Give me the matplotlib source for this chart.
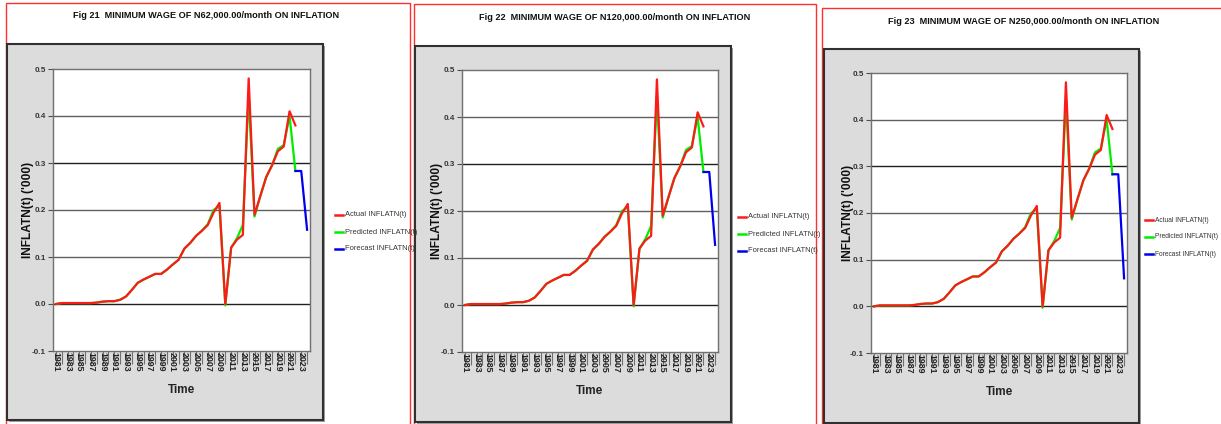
import matplotlib
matplotlib.use("Agg")
import matplotlib.pyplot as plt
from matplotlib.patches import Rectangle
from matplotlib.lines import Line2D

W, H = 1221, 424
plt.rcParams['font.family'] = ['Liberation Sans Narrow', 'Liberation Sans', 'DejaVu Sans']

years = list(range(1981, 2023))
actual = [0.000, 0.002, 0.002, 0.002, 0.002, 0.002, 0.002, 0.003, 0.005, 0.006,
          0.006, 0.009, 0.016, 0.030, 0.045, 0.052, 0.058, 0.064, 0.064, 0.073,
          0.084, 0.094, 0.118, 0.130, 0.145, 0.156, 0.168, 0.195, 0.215, 0.000,
          0.120, 0.137, 0.147, 0.480, 0.190, 0.230, 0.270, 0.295, 0.325, 0.335,
          0.410, 0.380]
predicted = [0.000, 0.002, 0.002, 0.002, 0.002, 0.002, 0.002, 0.003, 0.005, 0.006,
             0.006, 0.009, 0.016, 0.030, 0.045, 0.052, 0.058, 0.064, 0.064, 0.073,
             0.084, 0.094, 0.118, 0.130, 0.145, 0.156, 0.170, 0.200, 0.208, -0.003,
             0.120, 0.140, 0.168, 0.445, 0.186, 0.230, 0.270, 0.295, 0.330, 0.338,
             0.400, 0.283]
forecast_years = [2022, 2023, 2024]
forecast_21 = [0.283, 0.283, 0.158]
forecast_22 = [0.283, 0.283, 0.128]
forecast_23 = [0.283, 0.283, 0.060]

titles = ["Fig 21  MINIMUM WAGE OF N62,000.00/month ON INFLATION",
          "Fig 22  MINIMUM WAGE OF N120,000.00/month ON INFLATION",
          "Fig 23  MINIMUM WAGE OF N250,000.00/month ON INFLATION"]
legend_labels = ["Actual INFLATN(t)", "Predicted INFLATN(t)", "Forecast INFLATN(t)"]
y_ticks = [-0.1, 0.0, 0.1, 0.2, 0.3, 0.4, 0.5]
x_label = "Time"
y_label = "INFLATN(t) ('000)"

fig = plt.figure(figsize=(W / 100, H / 100), dpi=100)
fig.patch.set_facecolor('white')


def frac(x0, y0, x1, y1):
    return [x0 / W, 1 - y1 / H, (x1 - x0) / W, (y1 - y0) / H]


def add_rect(x0, y0, x1, y1, **kw):
    r = Rectangle((x0 / W, 1 - y1 / H), (x1 - x0) / W, (y1 - y0) / H,
                  transform=fig.transFigure, **kw)
    fig.add_artist(r)


def panel(border, gray, plot, title, title_xy, forecast, leg, ylab_x, leg_fs):
    bx0, by0, bx1, by1 = border
    add_rect(bx0, by0, bx1, by1 + 5, facecolor='white', edgecolor='#ff3030', lw=1.0, zorder=0)
    gx0, gy0, gx1, gy1 = gray
    add_rect(gx0 + 2, gy0 + 2, gx1 + 2, gy1 + 2, facecolor='#a0a0a0', edgecolor='none', zorder=1)
    add_rect(gx0, gy0, gx1, gy1, facecolor='#dcdcdc', edgecolor='#303030', lw=1.5, zorder=2)
    fig.text(title_xy[0] / W, 1 - title_xy[1] / H, title, ha='center', va='center',
             fontsize=6.6, fontweight='bold', color='#111111')

    ax = fig.add_axes(frac(*plot), zorder=3)
    ax.set_facecolor('white')
    ax.set_xlim(1980.5, 2024.5)
    ax.set_ylim(-0.1, 0.5)
    ax.set_yticks(y_ticks)
    ax.set_yticklabels([f"{v:.1f}" for v in y_ticks])
    for v in y_ticks[1:-1]:
        ax.axhline(v, color='#202020' if v in (0.0, 0.3) else '#606060', lw=1.0, zorder=1)
    ax.plot(years, predicted, color='#00ee00', lw=1.6, zorder=3)
    ax.plot(years, actual, color='#ff1a1a', lw=1.6, zorder=4)
    ax.plot(forecast_years, forecast, color='#0000ee', lw=1.6, zorder=4)
    for s in ax.spines.values():
        s.set_color('#707070')
        s.set_linewidth(1.0)
    ax.set_xticks(list(range(1981, 2025)))
    ax.set_xticklabels([str(y) if (y - 1981) % 2 == 0 else '' for y in range(1981, 2025)],
                       rotation=-90, fontsize=6.4, fontweight='bold')
    ax.tick_params(axis='x', length=9, width=0.8, color='#707070', pad=-8.5)
    ax.tick_params(axis='y', length=3.5, width=0.8, color='#505050', labelsize=5.8, pad=1.5)
    for lab in ax.get_xticklabels():
        lab.set_color('#222222')
    for lab in ax.get_yticklabels():
        lab.set_fontweight('bold')
        lab.set_color('#333333')
    ax.set_xlabel(x_label, fontsize=8.5, fontweight='bold', labelpad=9, color='#222222')
    fig.text(ylab_x / W, 1 - (plot[1] + plot[3]) / 2 / H, y_label, rotation=90,
             ha='center', va='center', fontsize=8.6, fontweight='bold', color='#111111')

    lx, ly = leg
    cols = ['#ff1a1a', '#00ee00', '#0000ee']
    for i, (lab, c) in enumerate(zip(legend_labels, cols)):
        yy = ly + i * 17
        fig.add_artist(Line2D([lx / W, (lx + 8) / W], [1 - yy / H, 1 - yy / H],
                              transform=fig.transFigure, color=c, lw=1.8))
        fig.text((lx + 10) / W, 1 - yy / H, lab, ha='left', va='center',
                 fontsize=leg_fs, color='#333333')


panel((6, 3, 410, 424), (7, 44, 323, 420), (53, 69, 310, 351), titles[0], (206, 16),
      forecast_21, (335, 215), 28, 5.4)
panel((414, 4, 816, 424), (415, 46, 731, 422), (462, 70, 718, 352), titles[1], (615, 17),
      forecast_22, (738, 217), 437, 5.4)
panel((822, 8, 1230, 424), (824, 49, 1139, 423), (871, 73, 1127, 353), titles[2], (1024, 21),
      forecast_23, (1145, 220), 848, 4.8)

fig.savefig('out.png', dpi=100, facecolor='white')
